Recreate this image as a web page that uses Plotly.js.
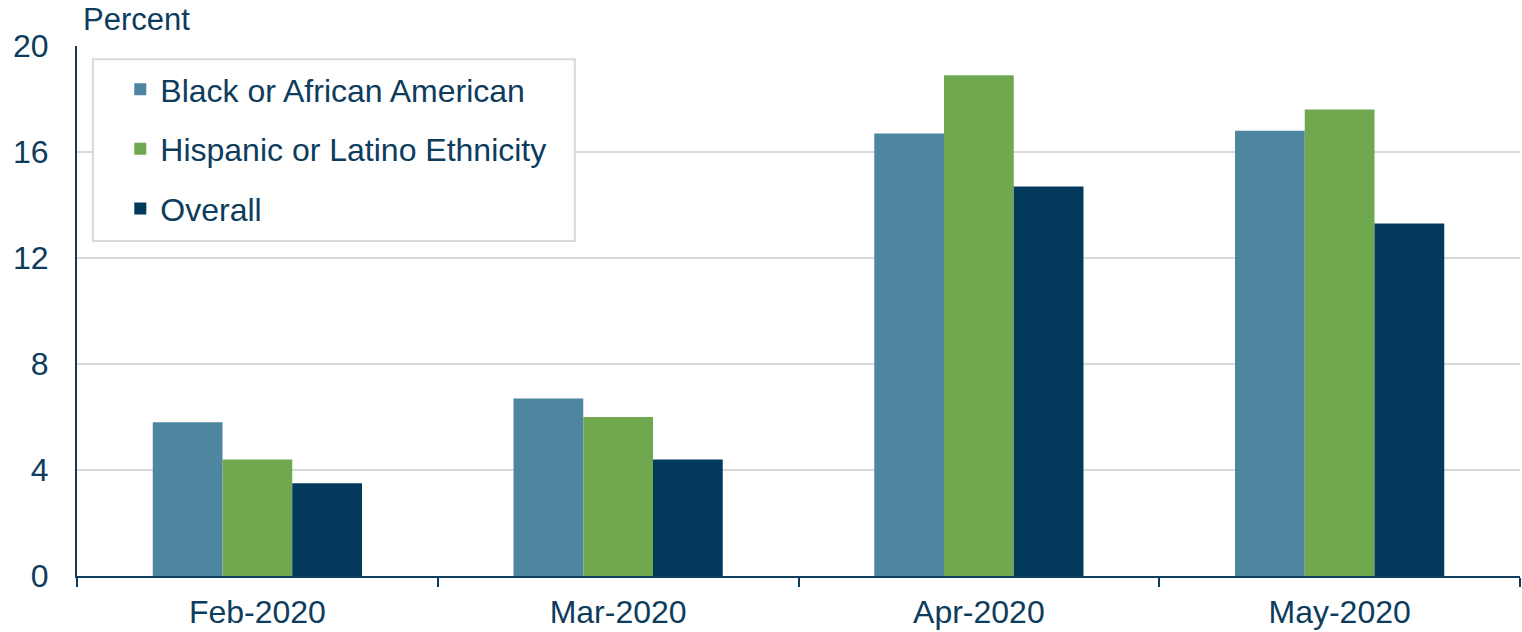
<html lang="en">
  <head>
    <meta charset="UTF-8" />
    <script src="https://cdn.plot.ly/plotly-3.0.1.min.js"></script>
    <style>
      body { margin: 0; background: #fff; }
    </style>
  </head>
  <body>
    <div id="chart" style="width: 1522px; height: 632px"></div>
    <script>
      // months on the x axis
      const months = ["Feb-2020", "Mar-2020", "Apr-2020", "May-2020"];
      // unemployment rate, percent
      const black = [5.8, 6.7, 16.7, 16.8];
      const hispanic = [4.4, 6.0, 18.9, 17.6];
      const overall = [3.5, 4.4, 14.7, 13.3];
      const yTicks = [0, 4, 8, 12, 16, 20];

      const textColor = "#0d3c5c";

      function barTrace(name, values, color, group) {
        return {
          type: "bar",
          name: name,
          x: months,
          y: values,
          legendgroup: group,
          marker: { color: color, line: { width: 0 } },
          hoverinfo: "x+y+name",
        };
      }

      const data = [
        barTrace("Black or African American", black, "#4e86a1", "a"),
        barTrace("Hispanic or Latino Ethnicity", hispanic, "#70a84f", "b"),
        barTrace("Overall", overall, "#033a5c", "c"),
      ];

      const layout = {
        width: 1522,
        height: 632,
        margin: { l: 77, r: 2, t: 46, b: 56 },
        paper_bgcolor: "#fff",
        plot_bgcolor: "#fff",
        font: { family: "Liberation Sans, Arial, sans-serif", size: 32, color: textColor },
        barmode: "group",
        bargap: 0.42,
        bargroupgap: 0,
        showlegend: true,
        legend: {
          x: 0.03,
          y: 0.97,
          xanchor: "left",
          yanchor: "top",
          bgcolor: "rgba(0,0,0,0)",
          borderwidth: 0,
          traceorder: "grouped",
          tracegroupgap: 15,
          font: { size: 32, color: textColor },
          itemwidth: 30,
        },
        // legend frame
        shapes: [
          {
            type: "rect",
            xref: "paper",
            yref: "paper",
            x0: 0.011,
            x1: 0.345,
            y0: 0.632,
            y1: 0.975,
            fillcolor: "#fff",
            line: { color: "#d9d9d9", width: 2 },
            layer: "above",
          },
        ],
        xaxis: {
          type: "category",
          tickson: "boundaries",
          ticks: "outside",
          ticklen: 9,
          tickwidth: 2,
          tickcolor: "#0d3c5c",
          showline: true,
          linecolor: "#0d3c5c",
          linewidth: 2,
          showgrid: false,
          ticklabelstandoff: 7,
          tickfont: { size: 32, color: textColor },
        },
        yaxis: {
          range: [0, 20],
          tickvals: yTicks,
          ticks: "",
          showline: true,
          linecolor: "#0d3c5c",
          linewidth: 2,
          showgrid: true,
          gridcolor: "#d9d9d9",
          gridwidth: 2,
          zeroline: false,
          ticklabelstandoff: 20,
          tickfont: { size: 32, color: textColor },
        },
        annotations: [
          {
            text: "Percent",
            xref: "paper",
            yref: "paper",
            x: 0,
            y: 1,
            xshift: 4,
            yshift: 7,
            xanchor: "left",
            yanchor: "bottom",
            showarrow: false,
            font: { size: 31, color: textColor },
          },
        ],
      };

      Plotly.newPlot("chart", data, layout, { displayModeBar: false });
    </script>
  </body>
</html>
